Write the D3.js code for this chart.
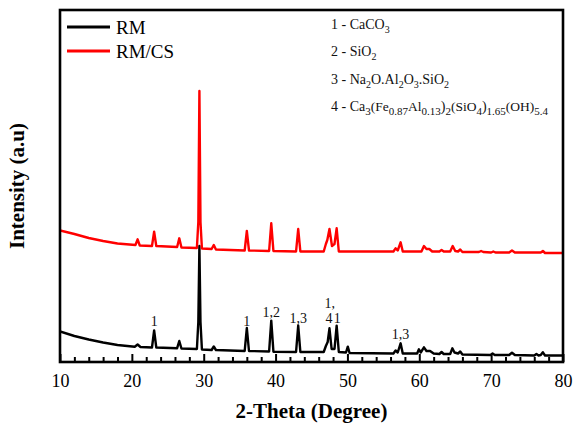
<!DOCTYPE html>
<html><head><meta charset="utf-8">
<script src="https://cdn.jsdelivr.net/npm/d3@7"></script>
<style>
body{margin:0;background:#fff;}
svg{display:block;font-family:"Liberation Serif","Times New Roman",serif;}
</style></head>
<body>
<div id="chart"></div>
<script>
// ---- data (2-Theta in degrees, intensity in arbitrary units) ----
const seriesNames = ["RM", "RM/CS"];
const seriesColors = ["#000000", "#ff0000"];

const rmPoints = [
 [10,30.5],[12,26],[14,22.5],[16,19.5],[18,17],[20.4,15.3],[20.8,17.5],[21.2,15],
 [22.8,14.5],[23.1,31.5],[23.4,14.5],[26.3,13.8],[26.6,21],[26.9,13.5],
 [29.05,13],[29.25,40],[29.4,116],[29.55,40],[29.75,12.5],[31.1,12],[31.4,15.5],[31.7,12],
 [35.7,11],[36.0,34],[36.3,11],[39.1,10.5],[39.4,41.3],[39.7,10.3],
 [42.85,10],[43.15,36.5],[43.45,10],[46.7,10],[47.0,16],[47.25,20],[47.5,33.7],[47.8,13],
 [48.2,13],[48.5,36.3],[48.8,10],[49.8,9.5],[50.05,15.3],[50.3,9],
 [56.4,8.5],[56.7,11.5],[57.0,9.5],[57.4,18.7],[57.7,8.5],[59.7,8.5],[59.95,12.7],[60.2,9.5],
 [60.65,14.7],[61.0,11],[61.5,11],[62.0,8.5],[62.8,8],[63.1,10],[63.4,8],
 [64.3,8],[64.6,13.7],[64.9,9.5],[65.4,8.5],[65.7,10.5],[66.0,7.5],
 [69.9,7],[70.2,8.5],[70.5,7],[72.5,7],[72.9,9.3],[73.3,7],
 [76.0,6.5],[76.3,8],[76.6,6.5],[76.9,7],[77.2,9.7],[77.5,6.5],[80,6.5]
];

const rmcsPoints = [
 [10,131.5],[12,128],[14,124],[16,121],[18,118.5],[20.5,117],[20.8,122.7],[21.1,116.5],
 [22.8,116],[23.1,130.3],[23.4,116],[26.3,115],[26.6,123.7],[26.9,114.5],
 [29.05,114],[29.25,140],[29.4,271],[29.55,140],[29.75,113.5],[31.1,113],[31.4,117],[31.7,112.5],
 [35.7,111.5],[36.0,131],[36.3,111.5],[39.1,111],[39.4,138.7],[39.7,111],
 [42.85,110.5],[43.15,133],[43.45,110.5],[46.7,110.5],[47.0,118],[47.2,122],[47.5,133],[47.85,116],
 [48.2,118],[48.5,133.7],[48.8,110.5],[56.4,110.5],[56.7,113.7],[57.0,111.5],[57.4,119.7],[57.7,110.5],
 [60.3,110.5],[60.65,116],[61.0,113],[61.4,113],[61.8,110.5],[62.8,110.5],[63.1,112],[63.4,110.5],
 [64.3,110.5],[64.65,116],[65.0,111],[65.4,110.5],[65.7,112.5],[66.0,110],
 [68.3,110],[68.6,111],[68.9,110],[70.0,109.5],[70.3,110.5],[70.6,109.5],
 [72.5,109.5],[72.9,111.5],[73.3,109.5],[76.9,109.5],[77.2,111],[77.5,109],[80,109]
];

// peak labels on the RM pattern: [2-Theta, intensity at label baseline, text]
const peakLabels = [
 [23.1, 36, "1"], [36.0, 36, "1"], [39.4, 45.5, "1,2"], [43.15, 39.5, "1,3"],
 [47.55, 54, "1,"], [47.45, 39.5, "4"], [48.6, 39.5, "1"], [57.4, 23, "1,3"]
];

const xTicks = [10, 20, 30, 40, 50, 60, 70, 80];
const xMinorTicks = d3.range(12, 80, 2).filter(v => v % 10 !== 0);

const phaseLegend = [
 [["1 - CaCO",14,0],["3",10,4]],
 [["2 - SiO",14,0],["2",10,4]],
 [["3 - Na",14,0],["2",10,4],["O.Al",14,0],["2",10,4],["O",14,0],["3",10,4],[".SiO",14,0],["2",10,4]],
 [["4 - Ca",14,0],["3",11,4],["(Fe",13.5,0],["0.87",11,4],["Al",13.5,0],["0.13",11,4],[")",14,0],["2",11,4],
  ["(SiO",13.5,0],["4",11,4],[")",14,0],["1.65",11,4],["(OH)",13.5,0],["5.4",11,4]]
];

// ---- layout ----
const W = 574, H = 426;
const m = {left: 60, right: 11, top: 10, bottom: 64};
const svg = d3.select("#chart").append("svg").attr("width", W).attr("height", H);

const x = d3.scaleLinear().domain([10, 80]).range([m.left, W - m.right]);
const y = d3.scaleLinear().domain([0, 352]).range([H - m.bottom, m.top]);

const line = d3.line().x(d => x(d[0])).y(d => y(d[1]));

svg.append("clipPath").attr("id", "clip").append("rect")
  .attr("x", m.left).attr("y", m.top).attr("width", x(80) - m.left).attr("height", y(0) - m.top);

const g = svg.append("g").attr("clip-path", "url(#clip)");
[rmPoints, rmcsPoints].forEach((pts, i) => {
  g.append("path").datum(pts).attr("d", line)
   .attr("fill", "none").attr("stroke", seriesColors[i]).attr("stroke-width", 2.4)
   .attr("stroke-linejoin", "round");
});

// axes
const ax = svg.append("g").attr("transform", `translate(0,${y(0)})`);
ax.append("g").call(d3.axisBottom(x).tickValues(xMinorTicks).tickSize(-5).tickFormat(""))
  .call(s => s.select(".domain").remove())
  .call(s => s.selectAll("line").attr("stroke-width", 2));
ax.append("g").call(d3.axisBottom(x).tickValues(xTicks).tickSize(-8).tickPadding(12).tickFormat(d3.format("d")))
  .call(s => s.select(".domain").remove())
  .call(s => s.selectAll("line").attr("stroke-width", 2))
  .call(s => s.selectAll("text").attr("font-size", 18).attr("font-family", "Liberation Serif").attr("fill", "#000"));

// frame
svg.append("rect").attr("x", m.left).attr("y", m.top)
  .attr("width", x(80) - m.left).attr("height", y(0) - m.top)
  .attr("fill", "none").attr("stroke", "#000").attr("stroke-width", 2.6);

// axis titles
svg.append("text").attr("x", (x(10) + x(80)) / 2).attr("y", 418)
  .attr("text-anchor", "middle").attr("font-weight", "bold").attr("font-size", 21)
  .text("2-Theta (Degree)");
svg.append("text").attr("transform", `translate(24,${(y(0) + y(352)) / 2}) rotate(-90)`)
  .attr("text-anchor", "middle").attr("font-weight", "bold").attr("font-size", 21)
  .text("Intensity (a.u)");

// series legend
seriesNames.forEach((name, i) => {
  const ly = 27 + i * 24;
  svg.append("line").attr("x1", 67).attr("x2", 110).attr("y1", ly).attr("y2", ly)
    .attr("stroke", seriesColors[i]).attr("stroke-width", 3);
  svg.append("text").attr("x", 116).attr("y", ly + 7).attr("font-size", 19).text(name);
});

// phase legend
phaseLegend.forEach((parts, i) => {
  const t = svg.append("text").attr("x", 331).attr("y", 29 + i * 27.3).attr("fill", "#111");
  parts.forEach(p => {
    t.append("tspan").attr("font-size", p[1])
     .attr("baseline-shift", p[2] ? -p[2] : 0).text(p[0]);
  });
});

// peak labels
svg.append("g").selectAll("text").data(peakLabels).join("text")
  .attr("x", d => x(d[0])).attr("y", d => y(d[1]))
  .attr("text-anchor", "middle").attr("font-size", 14).attr("fill", "#111")
  .text(d => d[2]);
</script>
</body></html>
